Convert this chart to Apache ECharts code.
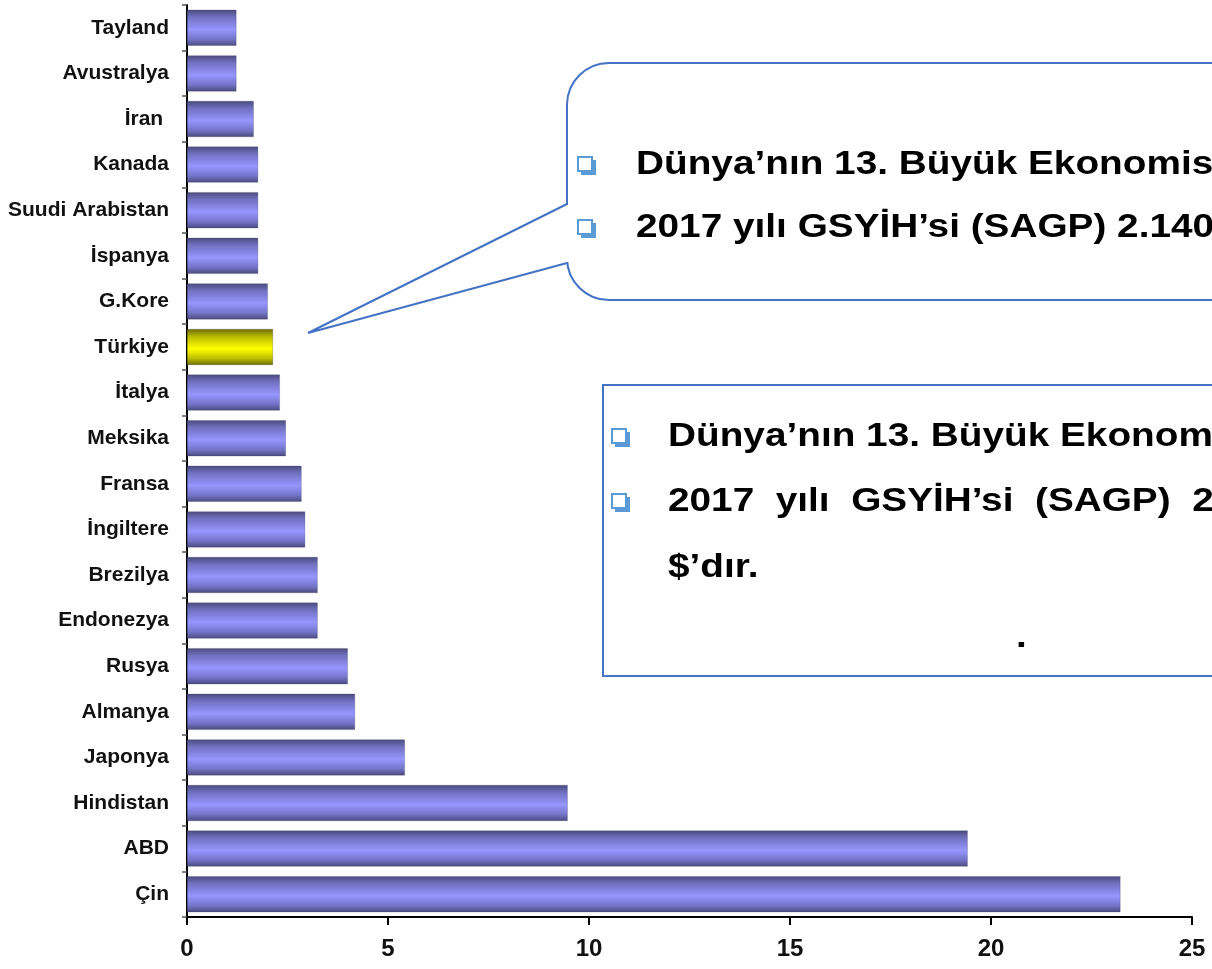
<!DOCTYPE html>
<html>
<head>
<meta charset="utf-8">
<script src="https://cdn.jsdelivr.net/npm/echarts@6/dist/echarts.min.js"></script>
<style>
  html, body { margin: 0; padding: 0; background: #fff; }
  #main { width: 1212px; height: 969px; }
</style>
</head>
<body>
<div id="main"></div>
<script>
// top to bottom, as in the picture
var countries = ['Tayland', 'Avustralya', 'İran ', 'Kanada', 'Suudi Arabistan', 'İspanya', 'G.Kore',
  'Türkiye', 'İtalya', 'Meksika', 'Fransa', 'İngiltere', 'Brezilya', 'Endonezya', 'Rusya',
  'Almanya', 'Japonya', 'Hindistan', 'ABD', 'Çin'];
var gdp = [1.23, 1.23, 1.66, 1.77, 1.77, 1.77, 2.01, 2.14, 2.31, 2.46, 2.85, 2.94, 3.25, 3.25, 4.0,
  4.18, 5.42, 9.47, 19.42, 23.22];
var xTicks = [0, 5, 10, 15, 20, 25];
var highlight = 'Türkiye';

var box1Lines = ['Dünya’nın 13. Büyük Ekonomisi', '2017 yılı GSYİH’si (SAGP) 2.140 milyar $’dır.'];
var box2Lines = ['Dünya’nın 13. Büyük Ekonomisi', '2017  yılı  GSYİH’si  (SAGP)  2.140  milyar', '$’dır.', '.'];

function vGrad(stops) {
  return {
    type: 'linear', x: 0, y: 0, x2: 0, y2: 1,
    colorStops: stops.map(function (s) { return { offset: s[0], color: s[1] }; })
  };
}
var blueGrad = vGrad([[0, '#4a4a7c'], [0.2, '#7070c0'], [0.55, '#9696ff'], [0.82, '#7373c8'], [1, '#4a4a7c']]);
var yellowGrad = vGrad([[0, '#6a6a00'], [0.22, '#bcbc00'], [0.55, '#ffff00'], [0.82, '#bcbc00'], [1, '#6a6a00']]);

var barData = countries.map(function (c, i) {
  return {
    value: gdp[i],
    itemStyle: { color: c === highlight ? yellowGrad : blueGrad }
  };
});

var textFont = 'bold 34px "Liberation Sans", Arial, sans-serif';
var labelFont = '"Liberation Sans Narrow", "Liberation Sans", Arial, sans-serif';
var lineColor = '#4472c4';
var bulletColor = '#5b9bd5';

function bullet(x, cy) {
  return [{
    type: 'rect', shape: { x: x + 3, y: cy - 5, width: 15, height: 15 },
    style: { fill: bulletColor }
  }, {
    type: 'rect', shape: { x: x, y: cy - 8, width: 14, height: 14 },
    style: { fill: '#fff', stroke: bulletColor, lineWidth: 2 }
  }];
}

function line(text, x, cy) {
  return {
    type: 'text', x: x, y: cy, scaleX: 1.14,
    style: { text: text, x: 0, y: 0, font: textFont, fill: '#000', textVerticalAlign: 'middle' }
  };
}

var graphics = [
  {
    type: 'rect', shape: { x: 567, y: 63, width: 700, height: 237, r: 42 },
    style: { fill: '#fff', stroke: lineColor, lineWidth: 2 }
  },
  {
    type: 'rect', shape: { x: 564, y: 205, width: 6, height: 57 },
    style: { fill: '#fff' }
  },
  {
    type: 'polyline', shape: { points: [[567, 204], [308, 333], [567, 263]] },
    style: { stroke: lineColor, lineWidth: 2, fill: null }
  },
  {
    type: 'rect', shape: { x: 603, y: 385, width: 700, height: 291 },
    style: { fill: '#fff', stroke: lineColor, lineWidth: 2 }
  }
]
  .concat(bullet(578, 165), bullet(578, 228), bullet(612, 437), bullet(612, 502))
  .concat([
    line(box1Lines[0], 636, 165),
    line(box1Lines[1], 636, 228),
    line(box2Lines[0], 668, 437),
    line(box2Lines[1], 668, 502),
    line(box2Lines[2], 668, 568),
    line(box2Lines[3], 1016, 638)
  ]);

var chart = echarts.init(document.getElementById('main'));
chart.setOption({
  backgroundColor: '#fff',
  animation: false,
  grid: { left: 187, right: 20, top: 5, bottom: 52, containLabel: false, outerBoundsMode: 'none' },
  xAxis: {
    type: 'value',
    min: xTicks[0],
    max: xTicks[xTicks.length - 1],
    interval: xTicks[1] - xTicks[0],
    splitLine: { show: false },
    axisLine: { show: true, lineStyle: { color: '#000', width: 2 } },
    axisTick: { show: true, length: 8, lineStyle: { color: '#000', width: 2 } },
    axisLabel: {
      margin: 20,
      color: '#111',
      fontSize: 24,
      fontWeight: 'bold',
      fontFamily: labelFont
    }
  },
  yAxis: {
    type: 'category',
    inverse: true,
    data: countries,
    axisLine: { show: true, lineStyle: { color: '#000', width: 2 } },
    axisTick: { show: true, length: 5, lineStyle: { color: '#555', width: 1.5 } },
    axisLabel: {
      margin: 18,
      color: '#111',
      fontSize: 21,
      fontWeight: 'bold',
      fontFamily: labelFont
    }
  },
  series: [{
    type: 'bar',
    data: barData,
    barWidth: 36,
    itemStyle: { borderColor: 'rgba(60,60,100,0.5)', borderWidth: 0.5 }
  }],
  graphic: graphics
});
</script>
</body>
</html>
